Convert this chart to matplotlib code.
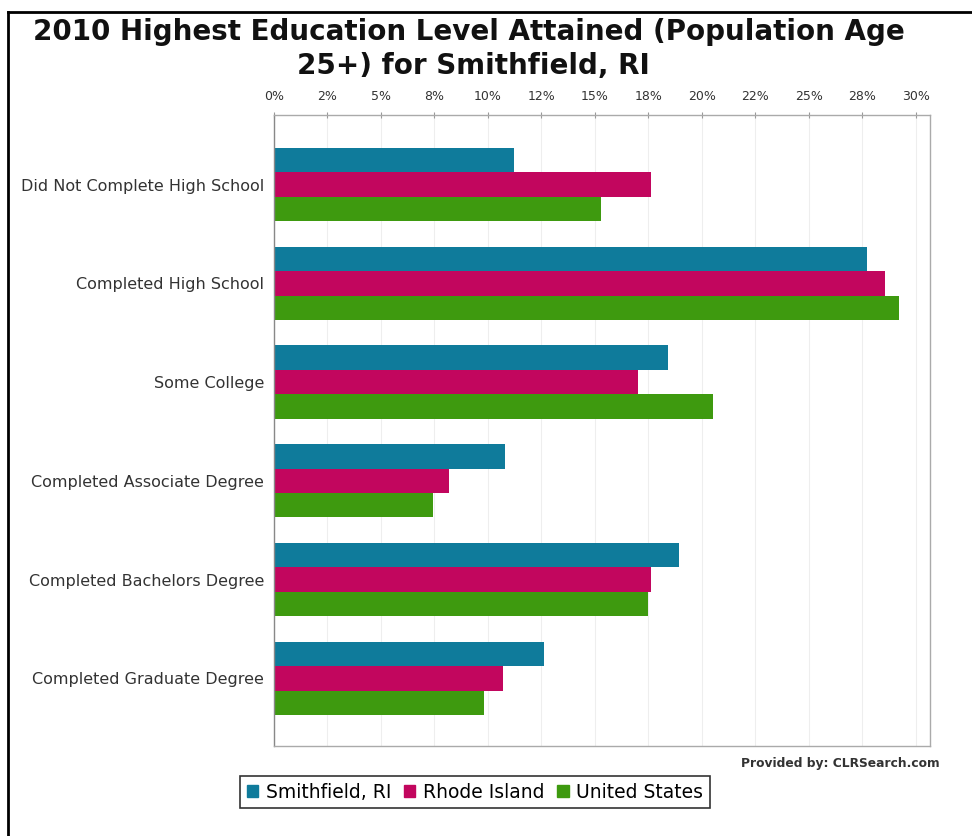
import matplotlib
matplotlib.use("Agg")
import matplotlib.pyplot as plt
import numpy as np
from matplotlib.patches import Rectangle
from matplotlib.lines import Line2D

categories = ["Did Not Complete High School", "Completed High School", "Some College",
              "Completed Associate Degree", "Completed Bachelors Degree", "Completed Graduate Degree"]
series_names = ["Smithfield, RI", "Rhode Island", "United States"]
smithfield = [11.2, 27.7, 18.4, 10.8, 18.95, 12.6]
rhode_island = [17.6, 28.55, 17.0, 8.2, 17.6, 10.7]
united_states = [15.3, 29.2, 20.5, 7.45, 17.5, 9.8]
tick_values = [0, 2.5, 5, 7.5, 10, 12.5, 15, 17.5, 20, 22.5, 25, 27.5, 30]
tick_labels = ["0%", "2%", "5%", "8%", "10%", "12%", "15%", "18%", "20%", "22%", "25%", "28%", "30%"]
colors = ["#0F7B9B", "#C2065E", "#3E9A0F"]

W, H = 972, 836
fig = plt.figure(figsize=(W / 100, H / 100), dpi=100)
fig.patch.set_facecolor("white")

ax = fig.add_axes([274 / W, 1 - 746 / H, (930 - 274) / W, (746 - 115) / H])
y = np.arange(len(categories))
h = 0.2475
for k, vals in enumerate([smithfield, rhode_island, united_states]):
    ax.barh(y + (k - 1) * h, vals, height=h, color=colors[k], edgecolor="none", zorder=2)

vmax = max(max(smithfield), max(rhode_island), max(united_states))
ax.set_xlim(0, vmax * 1.05)
ax.set_ylim(5.685, -0.704)
ax.set_yticks(y)
ax.set_yticklabels(categories, fontsize=11.5, color="#333333")
ax.tick_params(axis="y", length=0, pad=7)
ax.xaxis.tick_top()
ax.set_xticks(tick_values)
ax.set_xticklabels(tick_labels, fontsize=9, color="#333333")
ax.tick_params(axis="x", direction="inout", length=5, color="#999999", pad=6)
ax.grid(axis="x", color="#eeeeee", linewidth=0.8, zorder=0)
for s in ax.spines.values():
    s.set_color("#aaaaaa")
    s.set_linewidth(1)
ax.spines["left"].set_color("#888888")

fig.text(469 / W, 1 - 32 / H, "2010 Highest Education Level Attained (Population Age",
         ha="center", va="center", fontsize=20, fontweight="bold", color="#111111")
fig.text(473 / W, 1 - 66 / H, "25+) for Smithfield, RI",
         ha="center", va="center", fontsize=20, fontweight="bold", color="#111111")

fig.text(940 / W, 1 - 763 / H, "Provided by: CLRSearch.com", ha="right", va="center",
         fontsize=8.8, fontweight="bold", color="#333333")

handles = [Rectangle((0, 0), 1, 1, color=c) for c in colors]
leg = fig.legend(handles, series_names, loc="center", bbox_to_anchor=(475 / W, 1 - 792 / H),
                 ncol=3, fontsize=13.5, frameon=True, fancybox=False, handlelength=0.6,
                 handleheight=0.6, handletextpad=0.4, columnspacing=0.7, borderpad=0.35)
leg.get_frame().set_edgecolor("black")
leg.get_frame().set_linewidth(1.2)

fig.add_artist(Line2D([8 / W, 8 / W], [0, 1 - 12 / H], transform=fig.transFigure, color="black", lw=2))
fig.add_artist(Line2D([8 / W, 1], [1 - 12 / H, 1 - 12 / H], transform=fig.transFigure, color="black", lw=2))

fig.savefig("out.png", dpi=100)
